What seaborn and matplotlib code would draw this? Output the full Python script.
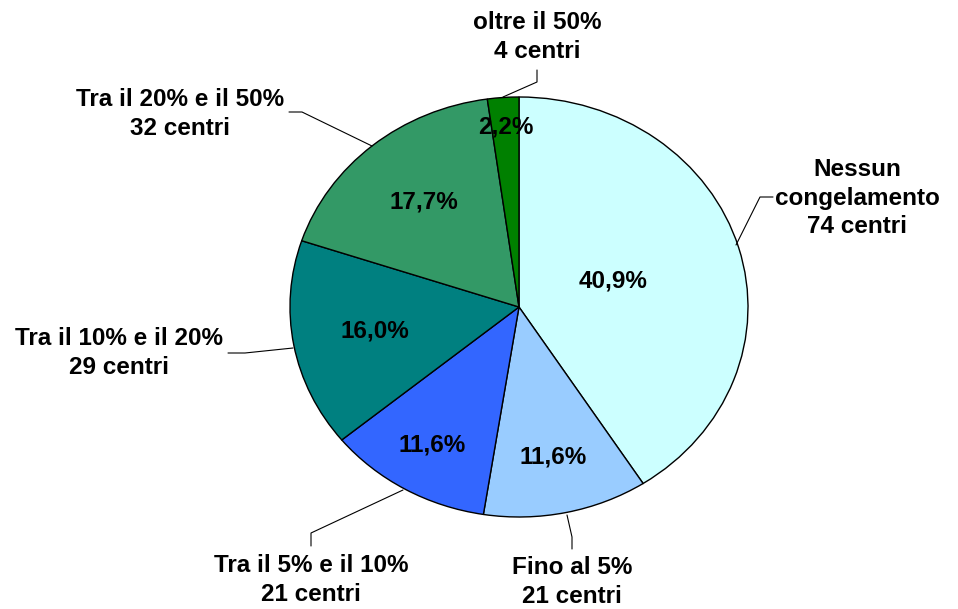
import matplotlib
matplotlib.use("Agg")
import matplotlib.pyplot as plt
import seaborn as sns
import numpy as np

# data
categories = ["Nessun\ncongelamento", "Fino al 5%", "Tra il 5% e il 10%",
              "Tra il 10% e il 20%", "Tra il 20% e il 50%", "oltre il 50%"]
centri = [74, 21, 21, 29, 32, 4]
slice_colors = ["#CCFFFF", "#99CCFF", "#3366FF", "#008080", "#339966", "#008000"]

# layout, in pixels of the 958x609 canvas
CX, CY, RX, RY = 519, 307, 229, 210
pct_radius = [0.43, 0.73, 0.76, 0.64, 0.65, 0.86]
label_pos = [(857, 198), (572, 582), (311, 580), (119, 353), (180, 114), (537, 37)]
leader_px = [
    [(773, 197), (760, 197), (736, 245)],
    [(572, 549), (572, 537), (567, 515)],
    [(311, 546), (311, 533), (403, 490)],
    [(228, 353), (245, 353), (293, 348)],
    [(289, 112), (302, 112), (372, 146)],
    [(537, 70), (537, 82), (503, 97)],
]


def to_data(px, py):
    return (px - CX) / RX, (CY - py) / RY


sns.set_style("white")
plt.rcParams['font.family'] = ['Liberation Sans', 'DejaVu Sans']
plt.rcParams['font.weight'] = 'bold'
plt.rcParams['text.color'] = 'black'

fig = plt.figure(figsize=(9.58, 6.09), dpi=100)
ax = fig.add_axes([0, 0, 1, 1])
wedges, _ = ax.pie(centri, colors=sns.color_palette(slice_colors), startangle=90,
                   counterclock=False,
                   wedgeprops=dict(edgecolor='black', linewidth=1.0))
ax.set_aspect('auto')
ax.set_xlim(to_data(0, 0)[0], to_data(958, 0)[0])
ax.set_ylim(to_data(0, 609)[1], to_data(0, 0)[1])
ax.axis('off')

total = sum(centri)
for w, r, n in zip(wedges, pct_radius, centri):
    ang = np.deg2rad((w.theta1 + w.theta2) / 2)
    pct = f"{100 * n / total:.1f}%".replace('.', ',')
    ax.text(r * np.cos(ang), r * np.sin(ang), pct, ha='center', va='center',
            fontsize=17.5, fontweight='bold', color='black')

for cat, n, pos, line in zip(categories, centri, label_pos, leader_px):
    tx, ty = to_data(*pos)
    ax.text(tx, ty, f"{cat}\n{n} centri", ha='center', va='center',
            fontsize=17.5, fontweight='bold', linespacing=1.3, color='black')
    pts = [to_data(*p) for p in line]
    ax.plot([p[0] for p in pts], [p[1] for p in pts], color='black', linewidth=0.8)

fig.savefig("out.png", dpi=100)
